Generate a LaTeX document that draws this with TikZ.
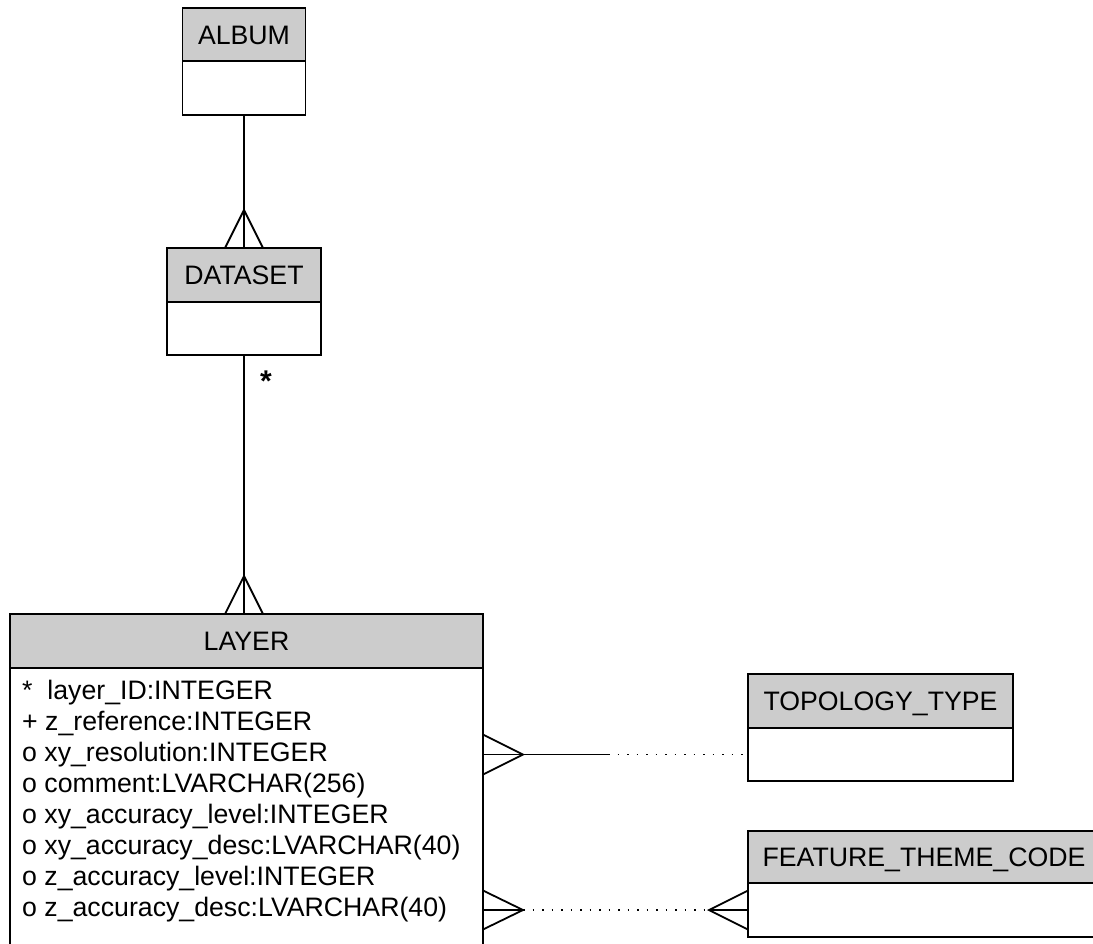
\documentclass[tikz,border=0pt]{standalone}
\usepackage{fontspec}
\setmainfont{Liberation Sans}
\usetikzlibrary{positioning,calc}
\definecolor{headgray}{RGB}{204,204,204}

\begin{document}
\begin{tikzpicture}[
  x=1pt, y=-1pt,
  every node/.style={font=\fontsize{26.7}{31}\selectfont},
  enthead/.style={draw, fill=headgray, line width=1.8pt, minimum height=53pt,
                inner sep=0pt, outer sep=0pt, text height=19.5pt, text depth=0pt},
  entbody/.style={draw, fill=white, line width=1.8pt, inner sep=0pt, outer sep=0pt},
  link/.style={line width=1.8pt},
  dotlink/.style={line width=1.8pt, dash pattern=on 1.8pt off 7.7pt}
]
\useasboundingbox (0,0) rectangle (1093,943);

% entities
\node[enthead, minimum width=123pt] (album) at (244, 34.5) {ALBUM};
\node[entbody, minimum width=123pt, minimum height=54pt, below=0pt of album] (album-body) {};

\node[enthead, minimum width=154pt, minimum height=54pt] (dataset) at (244, 275) {DATASET};
\node[entbody, minimum width=154pt, minimum height=53pt, below=0pt of dataset] (dataset-body) {};

\node[enthead, minimum width=473pt, minimum height=54pt] (layer) at (246.5, 641) {LAYER};
\node[entbody, minimum width=473pt, minimum height=282pt, below=0pt of layer] (layer-body) {};
\node[anchor=north west, align=left, inner sep=0pt] (layer-attrs) at (22, 680)
  {*~~layer\_ID:INTEGER\\
   + z\_reference:INTEGER\\
   o xy\_resolution:INTEGER\\
   o comment:LVARCHAR(256)\\
   o xy\_accuracy\_level:INTEGER\\
   o xy\_accuracy\_desc:LVARCHAR(40)\\
   o z\_accuracy\_level:INTEGER\\
   o z\_accuracy\_desc:LVARCHAR(40)};

\node[enthead, minimum width=265pt, minimum height=54pt] (topo) at (880.5, 701) {TOPOLOGY\_TYPE};
\node[entbody, minimum width=265pt, minimum height=53pt, below=0pt of topo] (topo-body) {};

\node[enthead, minimum width=352pt, minimum height=52pt] (feat) at (924, 857) {FEATURE\_THEME\_CODE};
\node[entbody, minimum width=352pt, minimum height=54pt, below=0pt of feat] (feat-body) {};

% album - dataset
\draw[link] (album-body.south) -- (dataset.north);
\draw[link] ([xshift=-19pt]dataset.north) -- ([yshift=38pt]dataset.north) -- ([xshift=19pt]dataset.north);

% dataset - layer
\coordinate (lt) at (dataset-body.south |- layer.north);
\draw[link] (dataset-body.south) -- (lt)
  node[pos=0.1, right=12pt, font=\fontsize{30}{30}\selectfont\bfseries] {*};
\draw[link] ([xshift=-19pt]lt) -- ([yshift=38pt]lt) -- ([xshift=19pt]lt);

% layer - topology type
\coordinate (ta) at (layer-body.east |- topo-body.west);
\coordinate (tm) at ($(ta)+(125,0)$);
\draw[link] (ta) -- (tm);
\draw[dotlink] (tm) -- (topo-body.west);
\draw[link] ([yshift=20pt]ta) -- ($(ta)+(40,0)$) -- ([yshift=-20pt]ta);

% layer - feature theme code
\coordinate (fa) at (layer-body.east |- feat-body.west);
\coordinate (fb) at ($(feat-body.west)+(-39,0)$);
\draw[link] (fa) -- ($(fa)+(40,0)$);
\draw[dotlink] ($(fa)+(40,0)$) -- (fb);
\draw[link] (fb) -- (feat-body.west);
\draw[link] ([yshift=19.5pt]fa) -- ($(fa)+(40,0)$) -- ([yshift=-19.5pt]fa);
\draw[link] ([yshift=19.5pt]feat-body.west) -- (fb) -- ([yshift=-19.5pt]feat-body.west);

\end{tikzpicture}
\end{document}
